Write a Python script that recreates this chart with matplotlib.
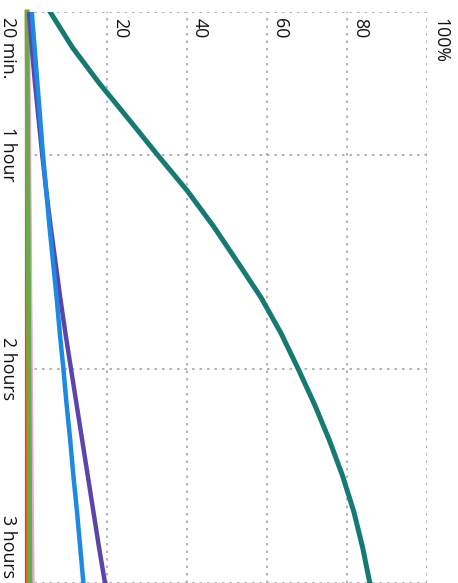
import matplotlib
matplotlib.use("Agg")
import matplotlib.pyplot as plt
import matplotlib.transforms as mtransforms

plt.rcParams['font.family'] = ['Open Sans', 'DejaVu Sans']

# time in minutes, values in percent
minutes = [20, 30, 40, 50, 60, 70, 80, 90, 100, 110, 120, 130, 140, 150, 160, 170, 180]
teal = [5.8, 11.4, 18.1, 25.4, 32.6, 40.0, 46.6, 52.6, 58.5, 63.5, 67.8, 71.9, 75.6, 78.9, 81.7, 83.9, 85.7]
purple = [0.5, 1.2, 2.0, 2.9, 3.8, 4.8, 5.9, 7.1, 8.3, 9.6, 11.0, 12.4, 13.8, 15.2, 16.6, 18.0, 19.5]
blue = [1.2, 1.9, 2.6, 3.3, 4.0, 4.8, 5.6, 6.5, 7.4, 8.2, 9.1, 9.9, 10.8, 11.6, 12.5, 13.3, 14.1]
pink = [0.3, 0.35, 0.4, 0.5, 0.55, 0.6, 0.7, 0.75, 0.8, 0.9, 0.95, 1.0, 1.1, 1.15, 1.2, 1.3, 1.4]
green = [0.0, 0.05, 0.1, 0.15, 0.2, 0.25, 0.3, 0.35, 0.4, 0.45, 0.5, 0.55, 0.6, 0.65, 0.68, 0.72, 0.75]
orange = [0.0, 0.0, 0.0, 0.02, 0.03, 0.04, 0.05, 0.06, 0.07, 0.08, 0.09, 0.1, 0.11, 0.12, 0.13, 0.14, 0.15]
brown = [0.0] * 17

pct_ticks = [20, 40, 60, 80, 100]
pct_labels = ["20", "40", "60", "80", "100%"]
time_ticks = [20, 60, 120, 180]
time_labels = ["20 min.", "1 hour", "2 hours", "3 hours"]

fig = plt.figure(figsize=(4.58, 5.83), dpi=100)
ax = fig.add_axes([27 / 458, 0, 400 / 458, 571 / 583])
ax.set_xlim(0, 100)
ax.set_ylim(180, 20)
for s in ax.spines.values():
    s.set_visible(False)
ax.set_xticks(pct_ticks)
ax.set_yticks(time_ticks)
ax.tick_params(length=0, labelbottom=False, labelleft=False)
ax.grid(True, color='#a6a6a6', lw=1.2, linestyle=(0, (1.5, 3)))

ax.plot(brown, minutes, color='#7b3a16', lw=3, clip_on=False, zorder=3)
ax.plot(orange, minutes, color='#e8661c', lw=3, clip_on=False, zorder=3)
ax.plot(pink, minutes, color='#e7a6d9', lw=3, clip_on=False, zorder=3)
ax.plot(green, minutes, color='#6aaa48', lw=3.4, clip_on=False, zorder=4)
ax.plot(purple, minutes, color='#5b45ad', lw=3.2, zorder=5)
ax.plot(blue, minutes, color='#1e88e5', lw=3.2, zorder=6)
ax.plot(teal, minutes, color='#177a72', lw=3.6, zorder=7)

# percent labels, rotated, just right of each gridline
for v, lab in zip(pct_ticks, pct_labels):
    ax.annotate(lab, xy=(v, 20), xycoords='data', xytext=(4, -6),
                textcoords='offset pixels', rotation=270,
                ha='left', va='top', fontsize=12.8, color='#111111')

# time labels on the left, rotated
tr = mtransforms.blended_transform_factory(ax.transAxes, ax.transData)
for i, (v, lab) in enumerate(zip(time_ticks, time_labels)):
    if i == 0:
        va, dy = 'top', -5
    elif i == len(time_ticks) - 1:
        va, dy = 'bottom', 5
    else:
        va, dy = 'center', 0
    ax.annotate(lab, xy=(0, v), xycoords=tr, xytext=(-10, dy),
                textcoords='offset pixels', rotation=270,
                ha='right', va=va, fontsize=12.8, color='#111111',
                annotation_clip=False)

fig.savefig("out.png", dpi=100)
